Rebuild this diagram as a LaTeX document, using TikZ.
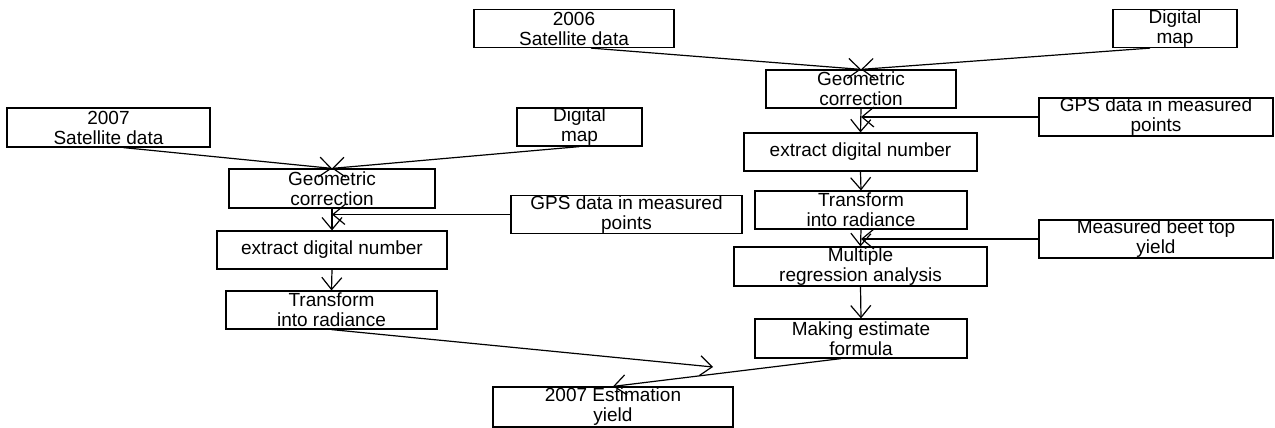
\documentclass[tikz,border=0pt]{standalone}
\usepackage{fontspec}
\setmainfont{Liberation Sans}
\usetikzlibrary{arrows.meta,calc}
\begin{document}
\begin{tikzpicture}[x=1pt, y=-1pt, >={Straight Barb[length=12pt,width=20pt]}, line width=1.2pt,
		every node/.style={font=\fontsize{19}{20}\selectfont},
		box/.style={draw, align=center, inner sep=0pt, minimum height=38pt}]
	\useasboundingbox (0,0) rectangle (1275,428);
	
	% 2006 年：数据来源
	\node[box, minimum width=200pt] (sat6) at (574,28.5) {2006\\Satellite data};
	\node[box, minimum width=124pt] (map6) at (1175,28.5) {Digital\\map};
	\node[box, minimum width=234pt] (gps6) at (1156,117) {GPS data in measured\\points};
	\node[box, minimum width=234pt] (beet6) at (1156,239) {Measured beet top\\yield};
	
	% 2006 年：处理流程
	\node[box, minimum width=190pt] (geo6) at (861,89) {Geometric\\correction};
	\node[box, minimum width=233pt] (ext6) at (860.5,152) {extract digital number};
	\node[box, minimum width=212pt] (rad6) at (861,210) {Transform\\into radiance};
	\node[box, minimum width=253pt, minimum height=39pt] (reg6) at (860.5,266.5) {Multiple\\regression analysis};
	\node[box, minimum width=212pt, minimum height=39pt] (form6) at (861,338.5) {Making estimate\\formula};
	
	% 2007 年：数据来源与处理流程
	\node[box, minimum width=203pt, minimum height=39pt] (sat7) at (108.5,127.5) {2007\\Satellite data};
	\node[box, minimum width=125pt] (map7) at (579.5,127) {Digital\\map};
	\node[box, minimum width=231pt, minimum height=37pt] (gps7) at (626.5,214.5) {GPS data in measured\\points};
	\node[box, minimum width=206pt, minimum height=39pt] (geo7) at (332,188.5) {Geometric\\correction};
	\node[box, minimum width=230pt] (ext7) at (332,250) {extract digital number};
	\node[box, minimum width=211pt] (rad7) at (331.5,310) {Transform\\into radiance};
	
	% 估产结果
	\node[box, minimum width=240pt, minimum height=40pt] (yield7) at (613,407) {2007 Estimation\\yield};
	
	% 2006 年箭头
	\draw[->] ($(sat6.south)+(17,0)$) -- (geo6.north);
	\draw[->] ($(map6.south)+(-25,0)$) -- (geo6.north);
	\draw[->] (geo6.south) -- (ext6.north);
	\draw[->] (gps6.west) -- (gps6.west -| geo6.south);
	\draw[->] (ext6.south) -- (rad6.north);
	\draw[->] (rad6.south) -- (reg6.north);
	\draw[->] (beet6.west) -- (beet6.west -| rad6.south);
	\draw[->] (reg6.south) -- (form6.north);
	
	% 2007 年箭头
	\draw[->] ($(sat7.south)+(15,0)$) -- (geo7.north);
	\draw[->] (map7.south) -- (geo7.north);
	\draw[->] (geo7.south) -- (ext7.north);
	\draw[->] (gps7.west) -- (gps7.west -| geo7.south);
	\draw[->] (ext7.south) -- (rad7.north);
	
	% 汇合到估产
	\coordinate (meet) at (713,367);
	\draw[->] (rad7.south) -- (meet);
	\draw[->] ($(form6.south)+(-20,0)$) -- (yield7.north);
\end{tikzpicture}
\end{document}
